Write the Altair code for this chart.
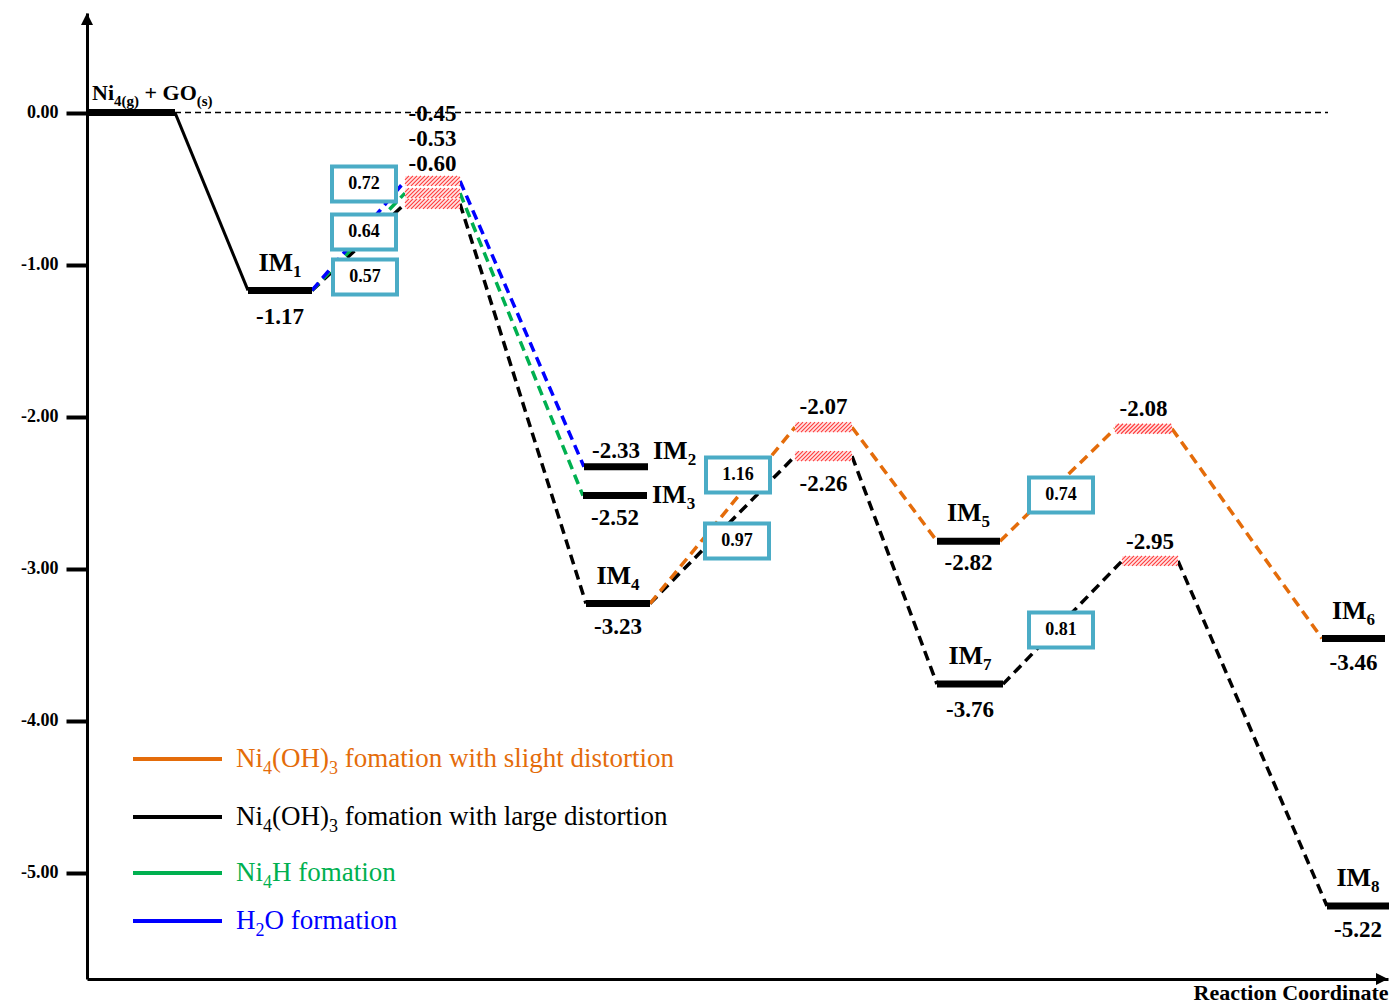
import altair as alt
import pandas as pd

FONT = "Liberation Serif"
ORANGE, BLACK, GREEN, BLUE = "#E46C0A", "#000000", "#00B050", "#0000FF"
BOX_EDGE = "#4BACC6"
HATCH = "#FF3B3B"
TS_FILL = "#FFE3E3"

# ---------------- energies (eV) ----------------
level_names = ["R", "IM1", "IM2", "IM3", "IM4", "IM5", "IM6", "IM7", "IM8"]
level_energy = [0.00, -1.17, -2.33, -2.52, -3.23, -2.82, -3.46, -3.76, -5.22]

ts_names = ["TS1a", "TS1b", "TS1c", "TS2a", "TS2b", "TS3a", "TS3b"]
ts_energy = [-0.45, -0.53, -0.60, -2.07, -2.26, -2.08, -2.95]

y_ticks = [0, -1, -2, -3, -4, -5]

# pathways: colour and visited states (drawn back to front)
path_colors = [BLACK, ORANGE, GREEN, BLUE]
path_states = [
    ["IM1", "TS1c", "IM4", "TS2b", "IM7", "TS3b", "IM8"],
    ["IM4", "TS2a", "IM5", "TS3a", "IM6"],
    ["IM1", "TS1b", "IM3"],
    ["IM1", "TS1a", "IM2"],
]

# legend entries: colour and (text, is_subscript) pieces
legend_colors = [ORANGE, BLACK, GREEN, BLUE]
legend_texts = [
    [("Ni", 0), ("4", 1), ("(OH)", 0), ("3", 1), (" fomation with slight distortion", 0)],
    [("Ni", 0), ("4", 1), ("(OH)", 0), ("3", 1), (" fomation with large distortion", 0)],
    [("Ni", 0), ("4", 1), ("H fomation", 0)],
    [("H", 0), ("2", 1), ("O formation", 0)],
]

# barriers shown in boxes: (transition state, preceding minimum)
barrier_pairs = [("TS1a", "IM1"), ("TS1b", "IM1"), ("TS1c", "IM1"),
                 ("TS2a", "IM4"), ("TS2b", "IM4"), ("TS3a", "IM5"), ("TS3b", "IM7")]

# ---------------- layout ----------------
W, H = 1301, 966
TOP, LEFT = 13, 87
Y_MIN, Y_MAX = -5.70, 0.655
PPU = H / (Y_MAX - Y_MIN)          # pixels per eV

# horizontal extent of each state along the reaction coordinate
level_span = {"R": (0, 88), "IM1": (161, 225), "IM2": (497, 561), "IM3": (496, 560),
              "IM4": (499, 563), "IM5": (850, 913), "IM6": (1235, 1298),
              "IM7": (850, 916), "IM8": (1240, 1302)}
ts_span = {"TS1a": (318, 373), "TS1b": (318, 373), "TS1c": (318, 373),
           "TS2a": (708, 765), "TS2b": (708, 765),
           "TS3a": (1028, 1085), "TS3b": (1035, 1091)}

# name label placement: (side, baseline offset in px)
name_layout = {"IM1": ("above", -19), "IM2": ("right", -8), "IM3": ("right", 7),
               "IM4": ("above", -20), "IM5": ("above", -20), "IM6": ("above", -20),
               "IM7": ("above", -20), "IM8": ("above", -20)}
# value label placement: (anchor state, baseline offset in px)
value_layout = {"IM1": ("IM1", 34), "IM2": ("IM2", -9), "IM3": ("IM3", 29),
                "IM4": ("IM4", 30), "IM5": ("IM5", 29), "IM6": ("IM6", 31),
                "IM7": ("IM7", 33), "IM8": ("IM8", 31),
                "TS1a": ("TS1a", -60), "TS1b": ("TS1a", -35), "TS1c": ("TS1a", -10),
                "TS2a": ("TS2a", -13), "TS2b": ("TS2b", 35),
                "TS3a": ("TS3a", -13), "TS3b": ("TS3b", -12)}
# barrier box centres: (x along coordinate, page y in px)
box_layout = [(277, 184), (277, 232), (278, 277), (651, 475), (650, 541), (974, 495), (974, 630)]
legend_rows_px = [759, 817, 873, 921]

E = dict(zip(level_names, level_energy))
E.update(dict(zip(ts_names, ts_energy)))
SPAN = dict(level_span)
SPAN.update(ts_span)


def shift(e, dy):
    """energy value dy pixels below e"""
    return e - dy / PPU


def page_y(py):
    return Y_MAX - (py - TOP) / PPU


REG = {"N": .722, "i": .278, "(": .333, ")": .333, "O": .722, "H": .722, " ": .25,
       "f": .333, "o": .5, "m": .778, "a": .444, "t": .278, "n": .5, "w": .722,
       "h": .5, "s": .389, "l": .278, "g": .5, "d": .5, "r": .333, "e": .444}
BOLD = {"I": .389, "M": .944, "N": .722, "i": .278, "(": .333, ")": .333, "g": .5,
        "s": .389, " ": .25, "+": .57, "G": .778, "O": .778, "-": .333, ".": .25}


def text_width(s, size, bold):
    table = BOLD if bold else REG
    return sum(table.get(c, 0.5) for c in s) * size


def rich(parts, x, e, size, sub_size, sub_drop, bold, color, center=False):
    """Lay out text pieces left to right; subscripts are smaller and lowered."""
    sizes = [sub_size if s else size for _, s in parts]
    widths = [text_width(t, sz, bold) for (t, _), sz in zip(parts, sizes)]
    if center:
        x -= sum(widths) / 2
    rows = []
    for (t, s), sz, w in zip(parts, sizes, widths):
        body = t.lstrip(" ")
        lead = text_width(t[:len(t) - len(body)], sz, bold)   # leading blanks become an advance
        rows.append({"x": x + lead, "y": shift(e, sub_drop if s else 0), "text": body,
                     "size": sz, "color": color})
        x += w
    return rows


# ---------------- tables ----------------
seg_rows = []
for color, states in zip(path_colors, path_states):
    for a, b in zip(states[:-1], states[1:]):
        seg_rows.append({"x": SPAN[a][1], "x2": SPAN[b][0], "y": E[a], "y2": E[b], "color": color})
segments = pd.DataFrame(seg_rows)

solid = pd.DataFrame([{"x": SPAN["R"][1], "x2": SPAN["IM1"][0], "y": E["R"], "y2": E["IM1"]}])
zero_line = pd.DataFrame([{"x": SPAN["R"][1], "x2": 1241, "y": 0.0, "y2": 0.0}])

levels = pd.DataFrame([{"x": level_span[n][0], "x2": level_span[n][1], "y": E[n], "y2": E[n]}
                       for n in level_names])

HALF = 5  # half height of transition-state bars, px
ts_rects = pd.DataFrame([{"x": ts_span[n][0], "x2": ts_span[n][1],
                          "y": shift(E[n], HALF), "y2": shift(E[n], -HALF)} for n in ts_names])

hatch_rows = []
for n in ts_names:
    x0, x1 = ts_span[n]
    k = x0 - HALF
    while k <= x1 + HALF:
        xs, xe = max(x0, k - HALF), min(x1, k + HALF)
        if xe > xs:
            hatch_rows.append({"x": xs, "x2": xe, "y": shift(E[n], k - xs), "y2": shift(E[n], k - xe)})
        k += 4
hatch = pd.DataFrame(hatch_rows)

box_rows, box_text = [], []
for (ts, im), (cx, py) in zip(barrier_pairs, box_layout):
    cy = page_y(py)
    box_rows.append({"x": cx - 32, "x2": cx + 32, "y": shift(cy, 17.5), "y2": shift(cy, -17.5)})
    box_text.append({"x": cx, "y": cy, "text": f"{E[ts] - E[im]:.2f}"})
boxes = pd.DataFrame(box_rows)
boxes_txt = pd.DataFrame(box_text)

value_rows = []
for n, (anchor, dy) in value_layout.items():
    x0, x1 = SPAN[anchor]
    value_rows.append({"x": (x0 + x1) / 2, "y": shift(E[anchor], dy), "text": f"{E[n]:.2f}"})
values_txt = pd.DataFrame(value_rows)

bold_rows = rich([("Ni", 0), ("4(g)", 1), (" + GO", 0), ("(s)", 1)],
                 5, shift(E["R"], -13), 22, 15, 6, True, BLACK)
for n, (side, dy) in name_layout.items():
    x0, x1 = level_span[n]
    parts = [("IM", 0), (n[2:], 1)]
    if side == "above":
        bold_rows += rich(parts, (x0 + x1) / 2, shift(E[n], dy), 26, 17, 6, True, BLACK, center=True)
    else:
        bold_rows += rich(parts, x1 + 5, shift(E[n], dy), 26, 17, 6, True, BLACK)
bold_txt = pd.DataFrame(bold_rows)

legend_lines = pd.DataFrame([{"x": 46, "x2": 135, "y": page_y(py), "y2": page_y(py), "color": c}
                             for c, py in zip(legend_colors, legend_rows_px)])
reg_rows = []
for c, parts, py in zip(legend_colors, legend_texts, legend_rows_px):
    reg_rows += rich(parts, 149, page_y(py + 8), 27, 18, 7, False, c)
legend_txt = pd.DataFrame(reg_rows)

# ---------------- encodings ----------------
x_scale = alt.Scale(domain=[0, W], nice=False, zero=False)
y_scale = alt.Scale(domain=[Y_MIN, Y_MAX], nice=False, zero=False)
x_axis = alt.Axis(title="Reaction Coordinate", ticks=False, labels=False, grid=False,
                  domainWidth=3, domainColor=BLACK, titleFont=FONT, titleFontSize=22,
                  titleFontWeight="bold", titleColor=BLACK, titleAnchor="end", titlePadding=3)
y_axis = alt.Axis(title=None, values=y_ticks, grid=False, domainWidth=3, domainColor=BLACK,
                  tickSize=21, tickWidth=4, tickColor=BLACK, labelFont=FONT, labelFontSize=18,
                  labelFontWeight="bold", labelColor=BLACK, labelPadding=8,
                  labelExpr="(datum.value < 0 ? '-' : '') + format(abs(datum.value), '.2f')")


def X():
    return alt.X("x:Q", scale=x_scale, axis=x_axis)


def Y():
    return alt.Y("y:Q", scale=y_scale, axis=y_axis)


def span_enc(chart):
    return chart.encode(x=X(), y=Y(), x2="x2:Q", y2="y2:Q")


zero_layer = span_enc(alt.Chart(zero_line).mark_rule(color=BLACK, strokeWidth=1.4, strokeDash=[6, 4]))
solid_layer = span_enc(alt.Chart(solid).mark_rule(color=BLACK, strokeWidth=3))
dash_layer = span_enc(alt.Chart(segments).mark_rule(strokeWidth=3.5, strokeDash=[10, 6])).encode(
    color=alt.Color("color:N", scale=None))
ts_layer = span_enc(alt.Chart(ts_rects).mark_rect(fill=TS_FILL, strokeWidth=0))
hatch_layer = span_enc(alt.Chart(hatch).mark_rule(color=HATCH, strokeWidth=1.1))
level_layer = span_enc(alt.Chart(levels).mark_rule(color=BLACK, strokeWidth=7, strokeCap="butt"))
box_layer = span_enc(alt.Chart(boxes).mark_rect(fill="white", stroke=BOX_EDGE, strokeWidth=4))
box_txt_layer = alt.Chart(boxes_txt).mark_text(
    font=FONT, fontWeight="bold", fontSize=18, align="center", baseline="middle", color=BLACK
).encode(x=X(), y=Y(), text="text:N")
value_layer = alt.Chart(values_txt).mark_text(
    font=FONT, fontWeight="bold", fontSize=23, align="center", baseline="alphabetic", color=BLACK
).encode(x=X(), y=Y(), text="text:N")
bold_layer = alt.Chart(bold_txt).mark_text(
    font=FONT, fontWeight="bold", align="left", baseline="alphabetic"
).encode(x=X(), y=Y(), text="text:N", size=alt.Size("size:Q", scale=None),
         color=alt.Color("color:N", scale=None))
legend_line_layer = span_enc(alt.Chart(legend_lines).mark_rule(strokeWidth=4)).encode(
    color=alt.Color("color:N", scale=None))
legend_txt_layer = alt.Chart(legend_txt).mark_text(
    font=FONT, align="left", baseline="alphabetic"
).encode(x=X(), y=Y(), text="text:N", size=alt.Size("size:Q", scale=None),
         color=alt.Color("color:N", scale=None))

arrow_up = alt.Chart(pd.DataFrame([{"x": 0, "y": Y_MAX - 6 / PPU}])).mark_point(
    shape="M0,-1L1,1L-1,1Z", filled=True, size=144, color=BLACK, opacity=1, strokeWidth=0
).encode(x=X(), y=Y())
arrow_right = alt.Chart(pd.DataFrame([{"x": W - 6, "y": Y_MIN}])).mark_point(
    shape="M1,0L-1,-1L-1,1Z", filled=True, size=144, color=BLACK, opacity=1, strokeWidth=0
).encode(x=X(), y=Y())

chart = alt.layer(
    zero_layer, solid_layer, dash_layer, ts_layer, hatch_layer, level_layer,
    box_layer, box_txt_layer, value_layer, bold_layer,
    legend_line_layer, legend_txt_layer, arrow_up, arrow_right,
).properties(
    width=W, height=H,
    padding={"left": LEFT, "top": TOP, "right": 2, "bottom": 28},
    autosize=alt.AutoSizeParams(type="none"),
    background="white",
).configure_view(stroke=None)

chart.save("out.html", embed_options={"renderer": "svg", "actions": False})
